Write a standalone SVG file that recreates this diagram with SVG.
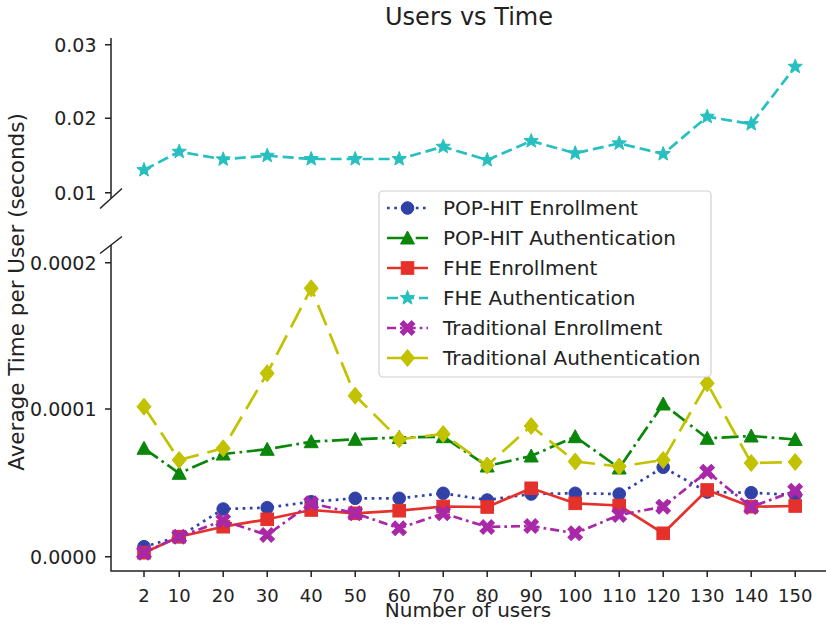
<svg xmlns="http://www.w3.org/2000/svg" xmlns:xlink="http://www.w3.org/1999/xlink" width="826" height="625" viewBox="0 0 826 625">
<style>
text{font-family:"DejaVu Sans","Liberation Sans",sans-serif;fill:#222}
.tick{font-size:19px}
.xtick{font-size:18px}
.axis{stroke:#222;stroke-width:1.5;fill:none}
.ln{fill:none;stroke-width:2.7;stroke-linejoin:round}
.blue{stroke:#3042a8;fill:#3042a8}
.green{stroke:#0a860a;fill:#0a860a}
.red{stroke:#e5312b;fill:#e5312b}
.cyan{stroke:#27bfbf;fill:#27bfbf}
.mag{stroke:#a828a8;fill:#a828a8}
.yel{stroke:#c2c200;fill:#c2c200}
.ln.blue{fill:none;stroke-dasharray:2.7 4.5}
.ln.green{fill:none;stroke-dasharray:17 4.5 2.7 4.5}
.ln.red{fill:none}
.ln.cyan{fill:none;stroke-dasharray:11 5}
.ln.mag{fill:none;stroke-dasharray:9 4 2.7 4}
.ln.yel{fill:none;stroke-dasharray:22 9}
.mk{stroke-width:1}
.leg{font-size:20px}
</style>
<defs>
<circle id="m-circ" r="6.3"/>
<polygon id="m-tri" points="0,-7 7,6 -7,6"/>
<rect id="m-sq" x="-6.3" y="-6.3" width="12.6" height="12.6"/>
<polygon id="m-dia" points="0,-8.5 7,0 0,8.5 -7,0"/>
<polygon id="m-x" transform="rotate(45)" points="2.3,-8 2.3,-2.3 8,-2.3 8,2.3 2.3,2.3 2.3,8 -2.3,8 -2.3,2.3 -8,2.3 -8,-2.3 -2.3,-2.3 -2.3,-8"/>
<polygon id="m-star" points="0,-7.5 1.9,-2.6 7.1,-2.3 3.1,1 4.4,6.1 0,3.2 -4.4,6.1 -3.1,1 -7.1,-2.3 -1.9,-2.6"/>
</defs>
<rect width="826" height="625" fill="#fff"/>

<text x="469" y="25" font-size="24" text-anchor="middle">Users vs Time</text>

<g id="axes">
<path class="axis" d="M111 38V198 M111 245V571H826"/>
<path class="axis" d="M100 208.5L122 188.5 M100 253.5L122 236.5"/>
<path class="axis" d="M105 44.7H111 M105 118.3H111 M105 192.7H111 M105 262.7H111 M105 409H111 M105 556.7H111"/>
<path class="axis" d="M144 571v6 M179.2 571v6 M223.2 571v6 M267.2 571v6 M311.2 571v6 M355.2 571v6 M399.2 571v6 M443.2 571v6 M487.2 571v6 M531.2 571v6 M575.2 571v6 M619.2 571v6 M663.2 571v6 M707.2 571v6 M751.2 571v6 M795.2 571v6"/>
<g class="tick" text-anchor="end">
<text x="96.5" y="51.6">0.03</text>
<text x="96.5" y="125.2">0.02</text>
<text x="96.5" y="199.6">0.01</text>
<text x="96.5" y="269.6">0.0002</text>
<text x="96.5" y="415.9">0.0001</text>
<text x="96.5" y="563.6">0.0000</text>
</g>
<g class="xtick" text-anchor="middle">
<text x="144" y="601.5">2</text>
<text x="179.2" y="601.5">10</text>
<text x="223.2" y="601.5">20</text>
<text x="267.2" y="601.5">30</text>
<text x="311.2" y="601.5">40</text>
<text x="355.2" y="601.5">50</text>
<text x="399.2" y="601.5">60</text>
<text x="443.2" y="601.5">70</text>
<text x="487.2" y="601.5">80</text>
<text x="531.2" y="601.5">90</text>
<text x="575.2" y="601.5">100</text>
<text x="619.2" y="601.5">110</text>
<text x="663.2" y="601.5">120</text>
<text x="707.2" y="601.5">130</text>
<text x="751.2" y="601.5">140</text>
<text x="795.2" y="601.5">150</text>
</g>
<text x="468" y="616.5" font-size="20" text-anchor="middle">Number of users</text>
<text transform="translate(23.5 292) rotate(-90)" font-size="21.5" text-anchor="middle">Average Time per User (seconds)</text>
</g>

<g id="connectors">
<g id="pophit-enrollment">
<polyline class="ln blue" points="144,546.7 179.2,536.7 223.2,509 267.2,507.7 311.2,501.7 355.2,498.3 399.2,498.3 443.2,493.3 487.2,500 531.2,494 575.2,493.3 619.2,494 663.2,467.3 707.2,492 751.2,492.7 795.2,495"/>
<g class="mk blue">
<use href="#m-circ" x="144" y="546.7"/><use href="#m-circ" x="179.2" y="536.7"/><use href="#m-circ" x="223.2" y="509"/><use href="#m-circ" x="267.2" y="507.7"/><use href="#m-circ" x="311.2" y="501.7"/><use href="#m-circ" x="355.2" y="498.3"/><use href="#m-circ" x="399.2" y="498.3"/><use href="#m-circ" x="443.2" y="493.3"/><use href="#m-circ" x="487.2" y="500"/><use href="#m-circ" x="531.2" y="494"/><use href="#m-circ" x="575.2" y="493.3"/><use href="#m-circ" x="619.2" y="494"/><use href="#m-circ" x="663.2" y="467.3"/><use href="#m-circ" x="707.2" y="492"/><use href="#m-circ" x="751.2" y="492.7"/><use href="#m-circ" x="795.2" y="495"/>
</g>
</g>
<g id="pophit-authentication">
<polyline class="ln green" points="144,448.3 179.2,473.3 223.2,454 267.2,449.3 311.2,441.7 355.2,439.3 399.2,437.5 443.2,436.7 487.2,466 531.2,456 575.2,436.7 619.2,468 663.2,404 707.2,438.3 751.2,436 795.2,439.5"/>
<g class="mk green">
<use href="#m-tri" x="144" y="448.3"/><use href="#m-tri" x="179.2" y="473.3"/><use href="#m-tri" x="223.2" y="454"/><use href="#m-tri" x="267.2" y="449.3"/><use href="#m-tri" x="311.2" y="441.7"/><use href="#m-tri" x="355.2" y="439.3"/><use href="#m-tri" x="399.2" y="437.5"/><use href="#m-tri" x="443.2" y="436.7"/><use href="#m-tri" x="487.2" y="466"/><use href="#m-tri" x="531.2" y="456"/><use href="#m-tri" x="575.2" y="436.7"/><use href="#m-tri" x="619.2" y="468"/><use href="#m-tri" x="663.2" y="404"/><use href="#m-tri" x="707.2" y="438.3"/><use href="#m-tri" x="751.2" y="436"/><use href="#m-tri" x="795.2" y="439.5"/>
</g>
</g>
<g id="fhe-enrollment">
<polyline class="ln red" points="144,552.7 179.2,536.7 223.2,526.7 267.2,519.3 311.2,510 355.2,513.3 399.2,510.7 443.2,506.5 487.2,507 531.2,488.3 575.2,503.3 619.2,505.5 663.2,533.3 707.2,490 751.2,506.7 795.2,506"/>
<g class="mk red">
<use href="#m-sq" x="144" y="552.7"/><use href="#m-sq" x="179.2" y="536.7"/><use href="#m-sq" x="223.2" y="526.7"/><use href="#m-sq" x="267.2" y="519.3"/><use href="#m-sq" x="311.2" y="510"/><use href="#m-sq" x="355.2" y="513.3"/><use href="#m-sq" x="399.2" y="510.7"/><use href="#m-sq" x="443.2" y="506.5"/><use href="#m-sq" x="487.2" y="507"/><use href="#m-sq" x="531.2" y="488.3"/><use href="#m-sq" x="575.2" y="503.3"/><use href="#m-sq" x="619.2" y="505.5"/><use href="#m-sq" x="663.2" y="533.3"/><use href="#m-sq" x="707.2" y="490"/><use href="#m-sq" x="751.2" y="506.7"/><use href="#m-sq" x="795.2" y="506"/>
</g>
</g>
<g id="fhe-authentication">
<polyline class="ln cyan" points="144,170 179.2,151.7 223.2,159.3 267.2,155.7 311.2,159 355.2,159 399.2,159 443.2,146.7 487.2,160 531.2,141 575.2,153.3 619.2,143.3 663.2,154 707.2,116.7 751.2,124 795.2,66.7"/>
<g class="mk cyan">
<use href="#m-star" x="144" y="170"/><use href="#m-star" x="179.2" y="151.7"/><use href="#m-star" x="223.2" y="159.3"/><use href="#m-star" x="267.2" y="155.7"/><use href="#m-star" x="311.2" y="159"/><use href="#m-star" x="355.2" y="159"/><use href="#m-star" x="399.2" y="159"/><use href="#m-star" x="443.2" y="146.7"/><use href="#m-star" x="487.2" y="160"/><use href="#m-star" x="531.2" y="141"/><use href="#m-star" x="575.2" y="153.3"/><use href="#m-star" x="619.2" y="143.3"/><use href="#m-star" x="663.2" y="154"/><use href="#m-star" x="707.2" y="116.7"/><use href="#m-star" x="751.2" y="124"/><use href="#m-star" x="795.2" y="66.7"/>
</g>
</g>
<g id="traditional-enrollment">
<polyline class="ln mag" points="144,552.7 179.2,536.7 223.2,520.7 267.2,535 311.2,503.3 355.2,513.3 399.2,528.3 443.2,513.3 487.2,527 531.2,526 575.2,533.3 619.2,515 663.2,506.7 707.2,471.7 751.2,507 795.2,490.8"/>
<g class="mk mag">
<use href="#m-x" x="144" y="552.7"/><use href="#m-x" x="179.2" y="536.7"/><use href="#m-x" x="223.2" y="520.7"/><use href="#m-x" x="267.2" y="535"/><use href="#m-x" x="311.2" y="503.3"/><use href="#m-x" x="355.2" y="513.3"/><use href="#m-x" x="399.2" y="528.3"/><use href="#m-x" x="443.2" y="513.3"/><use href="#m-x" x="487.2" y="527"/><use href="#m-x" x="531.2" y="526"/><use href="#m-x" x="575.2" y="533.3"/><use href="#m-x" x="619.2" y="515"/><use href="#m-x" x="663.2" y="506.7"/><use href="#m-x" x="707.2" y="471.7"/><use href="#m-x" x="751.2" y="507"/><use href="#m-x" x="795.2" y="490.8"/>
</g>
</g>
<g id="traditional-authentication">
<polyline class="ln yel" points="144,406.7 179.2,460 223.2,448.3 267.2,373.3 311.2,288.3 355.2,395.7 399.2,439.3 443.2,434 487.2,465.5 531.2,426 575.2,461.5 619.2,466.5 663.2,460 707.2,383.3 751.2,463 795.2,462"/>
<g class="mk yel">
<use href="#m-dia" x="144" y="406.7"/><use href="#m-dia" x="179.2" y="460"/><use href="#m-dia" x="223.2" y="448.3"/><use href="#m-dia" x="267.2" y="373.3"/><use href="#m-dia" x="311.2" y="288.3"/><use href="#m-dia" x="355.2" y="395.7"/><use href="#m-dia" x="399.2" y="439.3"/><use href="#m-dia" x="443.2" y="434"/><use href="#m-dia" x="487.2" y="465.5"/><use href="#m-dia" x="531.2" y="426"/><use href="#m-dia" x="575.2" y="461.5"/><use href="#m-dia" x="619.2" y="466.5"/><use href="#m-dia" x="663.2" y="460"/><use href="#m-dia" x="707.2" y="383.3"/><use href="#m-dia" x="751.2" y="463"/><use href="#m-dia" x="795.2" y="462"/>
</g>
</g>
</g>

<g id="legend">
<rect x="379" y="191" width="332" height="186" rx="4" fill="#fff" fill-opacity="0.85" stroke="#d0d0d0" stroke-width="1.2"/>
<line class="ln blue" x1="387" y1="208" x2="428" y2="208"/><use class="mk blue" href="#m-circ" x="407.5" y="208"/>
<line class="ln green" x1="387" y1="238" x2="428" y2="238"/><use class="mk green" href="#m-tri" x="407.5" y="238"/>
<line class="ln red" x1="387" y1="268" x2="428" y2="268"/><use class="mk red" href="#m-sq" x="407.5" y="268"/>
<line class="ln cyan" x1="387" y1="298" x2="428" y2="298"/><use class="mk cyan" href="#m-star" x="407.5" y="298"/>
<line class="ln mag" x1="387" y1="328" x2="428" y2="328"/><use class="mk mag" href="#m-x" x="407.5" y="328"/>
<line class="ln yel" x1="387" y1="358" x2="428" y2="358" style="stroke-dasharray:none"/><use class="mk yel" href="#m-dia" x="407.5" y="358"/>
<g class="leg">
<text x="443" y="215">POP-HIT Enrollment</text>
<text x="443" y="245">POP-HIT Authentication</text>
<text x="443" y="275">FHE Enrollment</text>
<text x="443" y="305">FHE Authentication</text>
<text x="443" y="335">Traditional Enrollment</text>
<text x="443" y="365">Traditional Authentication</text>
</g>
</g>
</svg>
